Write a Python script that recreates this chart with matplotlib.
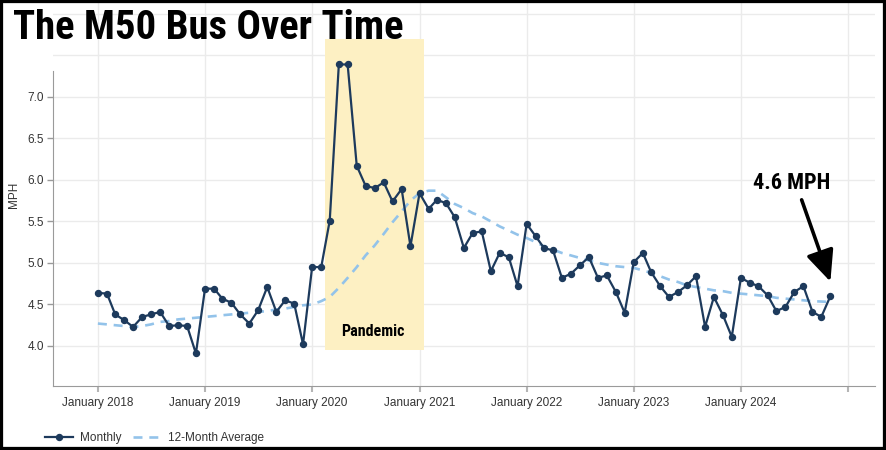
import numpy as np
import pandas as pd
import matplotlib
matplotlib.use('Agg')
import matplotlib.pyplot as plt
import matplotlib.dates as mdates
from matplotlib import font_manager
from matplotlib.font_manager import FontProperties
from matplotlib.patches import Rectangle

# ── data ──────────────────────────────────────────────────────────────────────
months = pd.date_range('2018-01-01', '2024-11-01', freq='MS')

monthly = [
    4.64, 4.63, 4.38, 4.31, 4.23, 4.35, 4.38, 4.41, 4.24, 4.25, 4.24, 3.91,
    4.69, 4.69, 4.57, 4.52, 4.38, 4.27, 4.43, 4.71, 4.41, 4.55, 4.51, 4.02,
    4.95, 4.95, 5.51, 7.39, 7.39, 6.17, 5.93, 5.90, 5.97, 5.74, 5.89, 5.20,
    5.84, 5.65, 5.76, 5.72, 5.55, 5.18, 5.36, 5.38, 4.90, 5.12, 5.07, 4.72,
    5.47, 5.32, 5.18, 5.15, 4.82, 4.87, 4.97, 5.07, 4.82, 4.85, 4.65, 4.40,
    5.01, 5.12, 4.89, 4.72, 4.59, 4.65, 4.73, 4.84, 4.23, 4.59, 4.37, 4.11,
    4.82, 4.76, 4.72, 4.61, 4.42, 4.47, 4.65, 4.72, 4.41, 4.35, 4.60,
]

avg12 = [
    4.27, 4.26, 4.25, 4.24, 4.23, 4.24, 4.26, 4.29, 4.30, 4.32, 4.33, 4.34,
    4.35, 4.36, 4.37, 4.38, 4.39, 4.40, 4.41, 4.42, 4.44, 4.45, 4.47, 4.49,
    4.50, 4.54, 4.59, 4.70, 4.82, 4.95, 5.09, 5.21, 5.35, 5.49, 5.62, 5.75,
    5.84, 5.87, 5.87, 5.79, 5.71, 5.66, 5.60, 5.56, 5.50, 5.44, 5.39, 5.34,
    5.30, 5.25, 5.20, 5.16, 5.12, 5.09, 5.06, 5.03, 5.00, 4.98, 4.96, 4.95,
    4.94, 4.91, 4.88, 4.84, 4.80, 4.77, 4.73, 4.71, 4.69, 4.67, 4.66, 4.64,
    4.63, 4.62, 4.61, 4.60, 4.58, 4.57, 4.56, 4.55, 4.54, 4.535, 4.53,
]

ytick_vals = [4.0, 4.5, 5.0, 5.5, 6.0, 6.5, 7.0]
year_ticks = pd.date_range('2018-01-01', '2025-01-01', freq='YS')
year_labels = [f'January {d.year}' for d in year_ticks[:-1]] + ['']

pandemic_start, pandemic_end = pd.Timestamp('2020-02-14'), pd.Timestamp('2021-01-16')
title = 'The M50 Bus Over Time'
last_label = '4.6 MPH'

# ── fonts ─────────────────────────────────────────────────────────────────────
_fonts = font_manager.fontManager.ttflist
_names = {f.name for f in _fonts}
BODY = 'Liberation Sans' if 'Liberation Sans' in _names else 'DejaVu Sans'
plt.rcParams['font.family'] = [BODY, 'DejaVu Sans']

# heavy sans families with full Latin; the original uses a heavy condensed face
HEAVY_CANDIDATES = ['Liberation Sans Narrow', 'Roboto Condensed', 'Roboto',
                    'Liberation Sans', 'Lato', 'Inter', 'Open Sans', 'Noto Sans',
                    'DejaVu Sans']


def _weight(f):
    w = f.weight
    if isinstance(w, str):
        w = font_manager.weight_dict.get(w, 400)
    return w


fig = plt.figure(figsize=(8.86, 4.5), dpi=100)
renderer = fig.canvas.get_renderer()


def pick_heavy():
    best, best_score = None, None
    for f in _fonts:
        if f.name not in HEAVY_CANDIDATES or _weight(f) < 700:
            continue
        if f.style != 'normal':
            continue
        fp = FontProperties(fname=f.fname, size=30)
        try:
            t = fig.text(0, 0, title, fontproperties=fp)
            w = t.get_window_extent(renderer).width
            t.remove()
        except Exception:
            continue
        score = w - 0.02 * _weight(f)
        if best_score is None or score < best_score:
            best, best_score = f, score
    if best is None:
        return FontProperties(family='DejaVu Sans', weight='bold')
    return FontProperties(fname=best.fname)


HEAVY = pick_heavy()

NAVY = '#1d3a5c'
LIGHT = '#93c3ea'
GRID = '#ebebeb'
AXIS = '#9a9a9a'
TXT = '#333333'

# ── axes ──────────────────────────────────────────────────────────────────────
ax = fig.add_axes([53 / 886, 64 / 450, 822 / 886, 383 / 450])

ax.set_xlim(pd.Timestamp('2017-08-01'), pd.Timestamp('2025-04-02'))
ax.set_ylim(3.518, 8.13)

# grid
for v in ytick_vals + [7.5, 8.0]:
    ax.axhline(v, color=GRID, lw=1.0, zorder=0)
for d in year_ticks:
    ax.axvline(d, color=GRID, lw=1.0, zorder=0)

# pandemic band
ax.add_patch(Rectangle((mdates.date2num(pandemic_start), 3.95),
                       mdates.date2num(pandemic_end) - mdates.date2num(pandemic_start),
                       7.70 - 3.95, facecolor='#fdf0c3', edgecolor='none', zorder=1))
t_pan = ax.text(pd.Timestamp('2020-07-27'), 4.18, 'Pandemic', ha='center',
                va='center', color='black', zorder=2,
                fontproperties=HEAVY.copy())

# series
ax.plot(months, avg12, color=LIGHT, lw=1.9, dashes=[3.4, 2.6], zorder=3,
        label='12-Month Average')
ax.plot(months, monthly, color=NAVY, lw=1.6, marker='o', ms=4.3, zorder=4,
        label='Monthly')

# annotation
ax.annotate('', xy=(pd.Timestamp('2024-11-01'), 4.775),
            xytext=(pd.Timestamp('2024-07-26'), 5.76),
            arrowprops=dict(arrowstyle='-|>,head_length=1.0,head_width=0.45',
                            mutation_scale=19, lw=2.6, color='black',
                            shrinkA=0, shrinkB=0), zorder=5)
t_mph = ax.text(pd.Timestamp('2024-06-22'), 5.96, last_label, ha='center',
                va='center', color='black', zorder=5,
                fontproperties=HEAVY.copy())

# axes styling
for s in ['top', 'right']:
    ax.spines[s].set_visible(False)
ax.spines['left'].set_color(AXIS)
ax.spines['bottom'].set_color(AXIS)
ax.spines['left'].set_bounds(3.518, 7.31)

ax.set_yticks(ytick_vals)
ax.set_yticklabels([f'{v:.1f}' for v in ytick_vals])
ax.set_xticks(year_ticks)
ax.set_xticklabels(year_labels)
ax.tick_params(axis='y', length=4, width=1, color=AXIS, pad=2.5,
               labelsize=8.5, labelcolor=TXT)
ax.tick_params(axis='x', length=4.5, width=1.5, color='#b5b5b5', pad=3.5,
               labelsize=8.5, labelcolor=TXT)

ax.set_ylabel('MPH', fontsize=8.5, color=TXT)
ax.yaxis.set_label_coords(-0.040, 0.50)

# legend
h, l = ax.get_legend_handles_labels()
fig.legend([h[1], h[0]], [l[1], l[0]], loc='center left',
           bbox_to_anchor=(45 / 886, 12 / 450), ncol=2, frameon=False,
           fontsize=8.5, handlelength=2.4, handletextpad=0.55,
           columnspacing=1.0, borderpad=0, borderaxespad=0, labelcolor=TXT)

# title
t_title = fig.text(13 / 886, 1 - 39 / 450, title, ha='left', va='baseline',
                   color='black', fontproperties=HEAVY.copy())

# size the heavy texts so their widths match the reference
for t, width_px, start, max_size in [(t_title, 391, 30, 32), (t_pan, 63, 11, 12),
                                     (t_mph, 81, 14.5, 16)]:
    t.set_fontsize(start)
    w = t.get_window_extent(renderer).width
    t.set_fontsize(min(max_size, start * width_px / w))

# black frame round the whole image
fig.add_artist(Rectangle((0, 0), 1, 1, transform=fig.transFigure, fill=False,
                         edgecolor='black', lw=4.5, clip_on=False))

fig.savefig('out.png', dpi=100)
